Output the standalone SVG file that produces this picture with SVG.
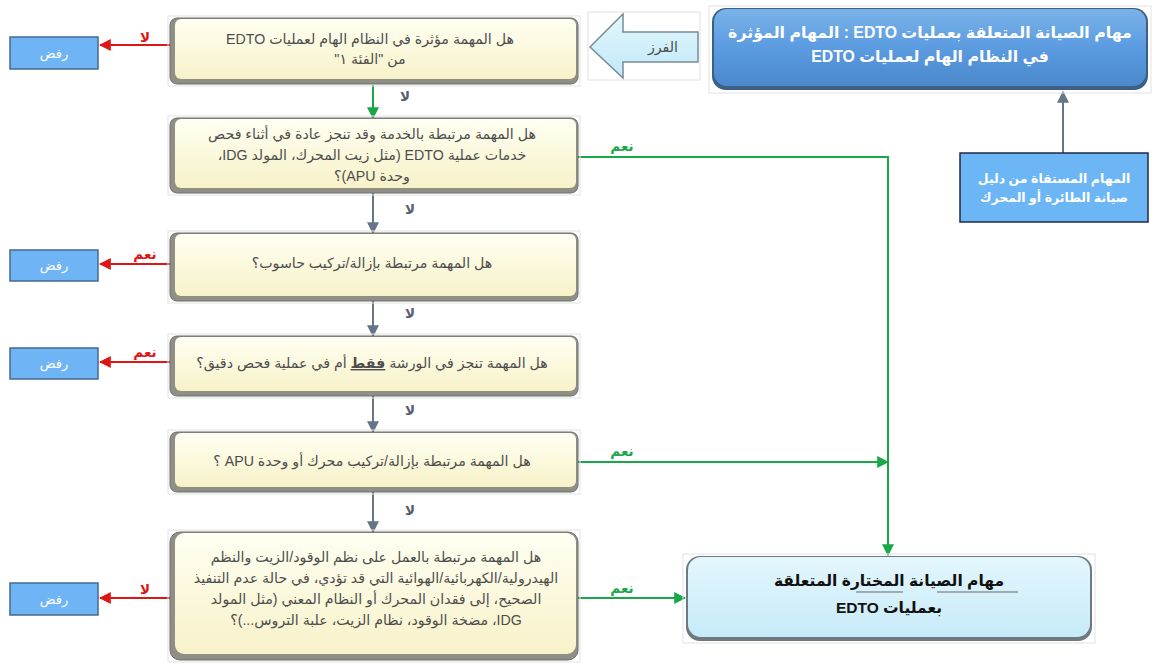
<svg xmlns="http://www.w3.org/2000/svg" width="1159" height="665" viewBox="0 0 1159 665">
  <style>
    .q { font-family: "Liberation Sans", "DejaVu Sans", sans-serif; font-size: 14.2px; fill: #4d4d4d; }
    .rej { font-family: "Liberation Sans", "DejaVu Sans", sans-serif; font-size: 13px; fill: #ffffff; }
    .lbl { font-family: "Liberation Sans", "DejaVu Sans", sans-serif; font-size: 13.5px; font-weight: bold; }
    .red { fill: #e01515; }
    .grn { fill: #18a84a; }
    .gry { fill: #55606e; }
    .wt { font-family: "Liberation Sans", "DejaVu Sans", sans-serif; font-weight: bold; fill: #ffffff; }
    .bk { font-family: "Liberation Sans", "DejaVu Sans", sans-serif; font-weight: bold; fill: #111111; font-size: 15.5px; }
    .frame { fill: none; stroke: #e2e2e2; stroke-width: 1; }
    .qedge { fill: #8f8f86; stroke: #6f6f6f; stroke-width: 1; }
    .qface { fill: url(#qGrad); }
    .rbox { fill: #6fb4f4; stroke: #46698f; stroke-width: 1.5; }
    .cr { stroke: #e01515; stroke-width: 2; fill: none; }
    .cg { stroke: #18a84a; stroke-width: 2; fill: none; }
    .cy { stroke: #67758a; stroke-width: 2; fill: none; }
  </style>
  <defs>
    <linearGradient id="qGrad" x1="0" y1="0" x2="0" y2="1">
      <stop offset="0" stop-color="#fffff2"/>
      <stop offset="1" stop-color="#f7f2c9"/>
    </linearGradient>
    <linearGradient id="topGrad" x1="0" y1="0" x2="0" y2="1">
      <stop offset="0" stop-color="#7ab3e8"/>
      <stop offset="0.5" stop-color="#5b9be0"/>
      <stop offset="1" stop-color="#4b88cc"/>
    </linearGradient>
    <linearGradient id="endGrad" x1="0" y1="0" x2="0" y2="1">
      <stop offset="0" stop-color="#e4f6fd"/>
      <stop offset="1" stop-color="#c7ebf9"/>
    </linearGradient>
    <linearGradient id="arrGrad" x1="0" y1="0" x2="0" y2="1">
      <stop offset="0" stop-color="#e3f7fd"/>
      <stop offset="1" stop-color="#bfe9f8"/>
    </linearGradient>
    <marker id="mR" viewBox="0 0 10 10" refX="9" refY="5" markerWidth="6" markerHeight="6" orient="auto">
      <path d="M0,0 L10,5 L0,10 z" fill="#e01515"/>
    </marker>
    <marker id="mG" viewBox="0 0 10 10" refX="9" refY="5" markerWidth="6" markerHeight="6" orient="auto">
      <path d="M0,0 L10,5 L0,10 z" fill="#18a84a"/>
    </marker>
    <marker id="mY" viewBox="0 0 10 10" refX="9" refY="5" markerWidth="6" markerHeight="6" orient="auto">
      <path d="M0,0 L10,5 L0,10 z" fill="#67758a"/>
    </marker>
  </defs>

  <rect width="1159" height="665" fill="#ffffff"/>

  <!-- connectors -->
  <g id="connectors">
    <line class="cr" x1="170" y1="45" x2="100" y2="45" marker-end="url(#mR)"/>
    <line class="cr" x1="170" y1="264" x2="100" y2="264" marker-end="url(#mR)"/>
    <line class="cr" x1="170" y1="362" x2="100" y2="362" marker-end="url(#mR)"/>
    <line class="cr" x1="170" y1="598" x2="100" y2="598" marker-end="url(#mR)"/>

    <line class="cg" x1="373" y1="85" x2="373" y2="118" marker-end="url(#mG)"/>
    <line class="cy" x1="373" y1="193" x2="373" y2="233" marker-end="url(#mY)"/>
    <line class="cy" x1="373" y1="301" x2="373" y2="336" marker-end="url(#mY)"/>
    <line class="cy" x1="373" y1="396" x2="373" y2="432" marker-end="url(#mY)"/>
    <line class="cy" x1="373" y1="492" x2="373" y2="532" marker-end="url(#mY)"/>

    <polyline class="cg" points="578,157 888,157 888,555" marker-end="url(#mG)"/>
    <line class="cg" x1="578" y1="462" x2="888" y2="462" marker-end="url(#mG)"/>
    <line class="cg" x1="578" y1="598" x2="685" y2="598" marker-end="url(#mG)"/>

    <line class="cy" x1="1063" y1="153" x2="1063" y2="92" marker-end="url(#mY)"/>

    <text class="lbl red" x="145" y="42" text-anchor="middle" direction="rtl">لا</text>
    <text class="lbl red" x="145" y="259" text-anchor="middle" direction="rtl">نعم</text>
    <text class="lbl red" x="145" y="357" text-anchor="middle" direction="rtl">نعم</text>
    <text class="lbl red" x="145" y="594" text-anchor="middle" direction="rtl">لا</text>

    <text class="lbl gry" x="405" y="101" text-anchor="middle" direction="rtl">لا</text>
    <text class="lbl gry" x="410" y="214" text-anchor="middle" direction="rtl">لا</text>
    <text class="lbl gry" x="410" y="318" text-anchor="middle" direction="rtl">لا</text>
    <text class="lbl gry" x="410" y="415" text-anchor="middle" direction="rtl">لا</text>
    <text class="lbl gry" x="410" y="515" text-anchor="middle" direction="rtl">لا</text>

    <text class="lbl grn" x="622" y="151" text-anchor="middle" direction="rtl">نعم</text>
    <text class="lbl grn" x="622" y="456" text-anchor="middle" direction="rtl">نعم</text>
    <text class="lbl grn" x="622" y="593" text-anchor="middle" direction="rtl">نعم</text>
  </g>

  <!-- question 1 -->
  <g id="q1">
    <rect class="frame" x="168" y="16" width="412" height="70"/>
    <rect class="qedge" x="170" y="18" width="408" height="66" rx="7"/>
    <rect class="qface" x="175" y="19" width="401" height="60" rx="6"/>
    <text class="q" x="370" y="44" text-anchor="middle" direction="rtl">هل المهمة مؤثرة في النظام الهام لعمليات EDTO</text>
    <text class="q" x="370" y="64" text-anchor="middle" direction="rtl">من "الفئة ١"</text>
  </g>

  <!-- question 2 -->
  <g id="q2">
    <rect class="frame" x="168" y="116" width="412" height="79"/>
    <rect class="qedge" x="170" y="118" width="408" height="75" rx="7"/>
    <rect class="qface" x="175" y="119" width="401" height="69" rx="6"/>
    <text class="q" x="372" y="139" text-anchor="middle" direction="rtl">هل المهمة مرتبطة بالخدمة وقد تنجز عادة في أثناء فحص</text>
    <text class="q" x="372" y="160" text-anchor="middle" direction="rtl">خدمات عملية EDTO  (مثل زيت المحرك، المولد IDG،</text>
    <text class="q" x="372" y="181" text-anchor="middle" direction="rtl">وحدة APU)؟</text>
  </g>

  <!-- question 3 -->
  <g id="q3">
    <rect class="frame" x="168" y="231" width="412" height="72"/>
    <rect class="qedge" x="170" y="233" width="408" height="68" rx="7"/>
    <rect class="qface" x="175" y="234" width="401" height="62" rx="6"/>
    <text class="q" x="372" y="268" text-anchor="middle" direction="rtl">هل المهمة مرتبطة بإزالة/تركيب حاسوب؟</text>
  </g>

  <!-- question 4 -->
  <g id="q4">
    <rect class="frame" x="168" y="334" width="412" height="64"/>
    <rect class="qedge" x="170" y="336" width="408" height="60" rx="7"/>
    <rect class="qface" x="175" y="337" width="401" height="54" rx="6"/>
    <text class="q" x="372" y="368" text-anchor="middle" direction="rtl">هل المهمة تنجز في الورشة <tspan font-weight="bold" text-decoration="underline">فقط</tspan> أم في عملية فحص دقيق؟</text>
  </g>

  <!-- question 5 -->
  <g id="q5">
    <rect class="frame" x="168" y="430" width="412" height="64"/>
    <rect class="qedge" x="170" y="432" width="408" height="60" rx="7"/>
    <rect class="qface" x="175" y="433" width="401" height="54" rx="6"/>
    <text class="q" x="372" y="466" text-anchor="middle" direction="rtl">هل المهمة مرتبطة بإزالة/تركيب محرك أو وحدة APU ؟</text>
  </g>

  <!-- question 6 -->
  <g id="q6">
    <rect class="frame" x="168" y="530" width="412" height="132"/>
    <rect class="qedge" x="170" y="532" width="408" height="128" rx="10"/>
    <rect class="qface" x="175" y="533" width="401" height="121" rx="9"/>
    <text class="q" x="376" y="562" text-anchor="middle" direction="rtl">هل المهمة مرتبطة بالعمل على نظم الوقود/الزيت والنظم</text>
    <text class="q" x="376" y="583" text-anchor="middle" direction="rtl">الهيدرولية/الكهربائية/الهوائية التي قد تؤدي، في حالة عدم التنفيذ</text>
    <text class="q" x="376" y="604" text-anchor="middle" direction="rtl">الصحيح، إلى فقدان المحرك أو النظام المعني (مثل المولد</text>
    <text class="q" x="376" y="625" text-anchor="middle" direction="rtl">IDG، مضخة الوقود، نظام الزيت، علبة التروس...)؟</text>
  </g>

  <!-- reject boxes -->
  <g id="reject1">
    <rect class="rbox" x="10" y="37" width="88" height="32"/>
    <text class="rej" x="54" y="58" text-anchor="middle" direction="rtl">رفض</text>
  </g>
  <g id="reject2">
    <rect class="rbox" x="10" y="250" width="88" height="31"/>
    <text class="rej" x="54" y="270" text-anchor="middle" direction="rtl">رفض</text>
  </g>
  <g id="reject3">
    <rect class="rbox" x="10" y="348" width="88" height="31"/>
    <text class="rej" x="54" y="368" text-anchor="middle" direction="rtl">رفض</text>
  </g>
  <g id="reject4">
    <rect class="rbox" x="10" y="583" width="88" height="32"/>
    <text class="rej" x="54" y="604" text-anchor="middle" direction="rtl">رفض</text>
  </g>

  <!-- sorting arrow -->
  <g id="sort">
    <rect class="frame" x="588" y="12" width="112" height="68"/>
    <path d="M590,47 L623,14 L623,32 L698,32 L698,62 L623,62 L623,78 Z" fill="url(#arrGrad)" stroke="#7a8a94" stroke-width="1.5"/>
    <text class="q" x="663" y="52" text-anchor="middle" direction="rtl" font-size="13">الفرز</text>
  </g>

  <!-- top result box -->
  <g id="critical">
    <rect class="frame" x="709" y="6" width="442" height="87"/>
    <rect x="712" y="8" width="436" height="82" rx="14" fill="#3b5f85"/>
    <rect x="714" y="9" width="432" height="77" rx="13" fill="url(#topGrad)"/>
    <text class="wt" x="930" y="38" text-anchor="middle" direction="rtl" font-size="15.8">مهام الصيانة المتعلقة بعمليات EDTO : المهام المؤثرة</text>
    <text class="wt" x="930" y="62" text-anchor="middle" direction="rtl" font-size="15.8">في النظام الهام لعمليات EDTO</text>
  </g>

  <!-- source box -->
  <g id="source">
    <rect x="960" y="153" width="188" height="69" fill="#6cb6f6" stroke="#1e2a44" stroke-width="1.5"/>
    <text class="wt" x="1054" y="183" text-anchor="middle" direction="rtl" font-size="12.5">المهام المستقاة من دليل</text>
    <text class="wt" x="1054" y="202" text-anchor="middle" direction="rtl" font-size="12.5">صيانة الطائرة أو المحرك</text>
  </g>

  <!-- selected tasks box -->
  <g id="selected">
    <rect class="frame" x="683" y="554" width="412" height="89"/>
    <rect x="686" y="556" width="406" height="85" rx="14" fill="#6f7a80"/>
    <rect x="688" y="557" width="402" height="80" rx="13" fill="url(#endGrad)"/>
    <text class="bk" x="889" y="586" text-anchor="middle" direction="rtl">مهام الصيانة المختارة المتعلقة</text>
    <line x1="937" y1="592" x2="1018" y2="592" stroke="#666" stroke-width="1.2"/>
    <line x1="856" y1="592" x2="903" y2="592" stroke="#666" stroke-width="1.2"/>
    <text class="bk" x="889" y="613" text-anchor="middle" direction="rtl">بعمليات EDTO</text>
  </g>
</svg>
